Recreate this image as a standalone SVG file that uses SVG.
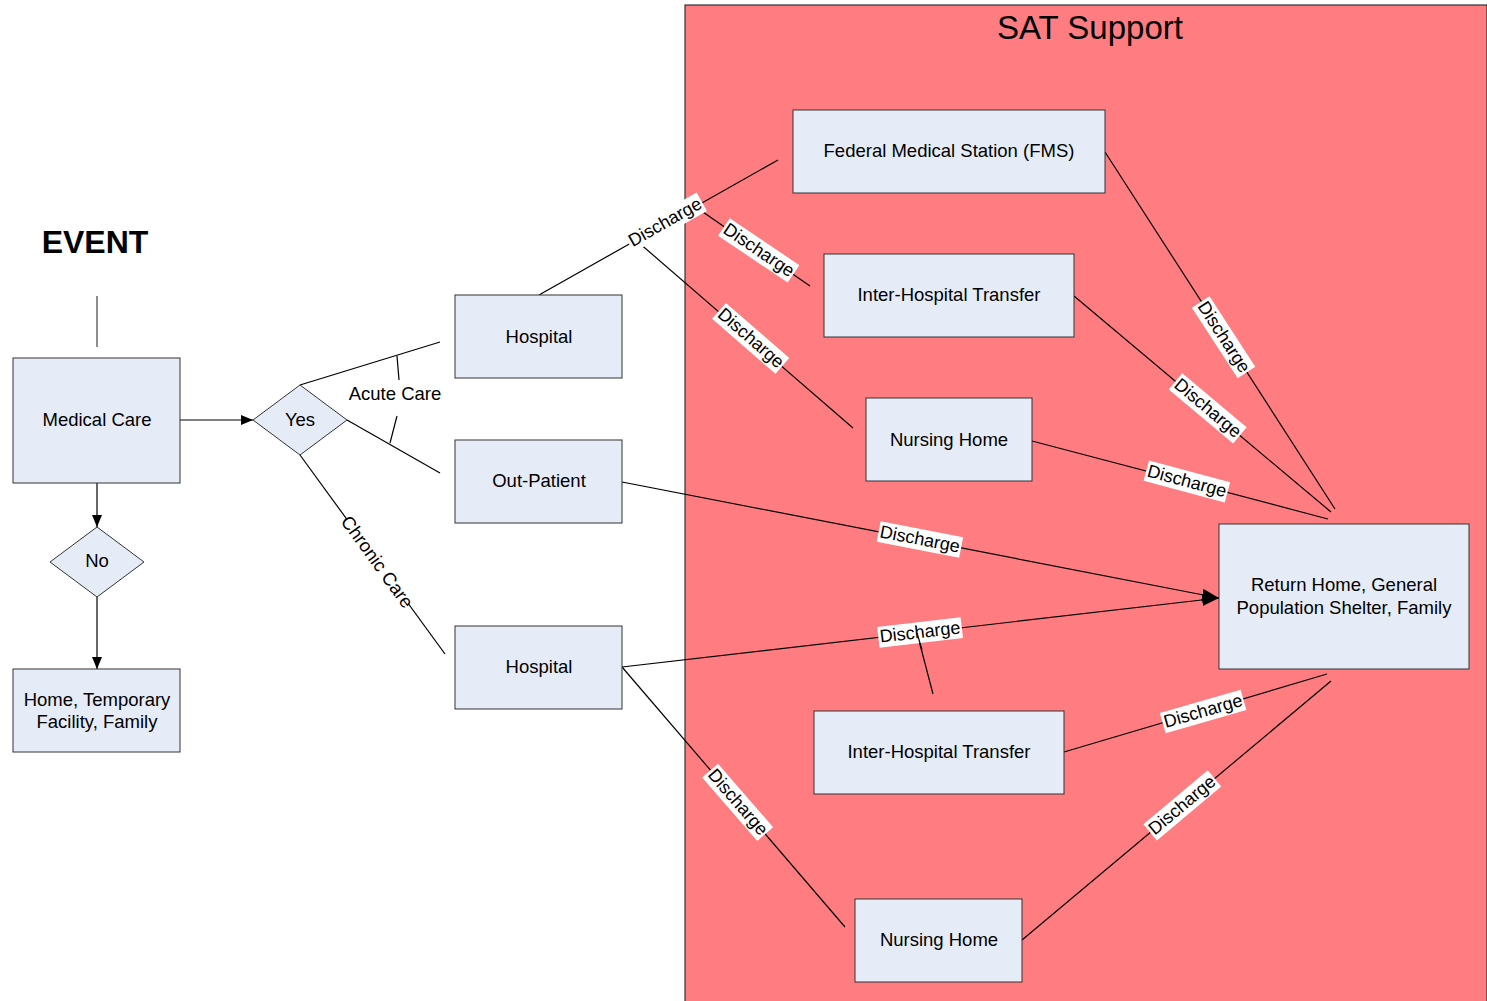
<svg xmlns="http://www.w3.org/2000/svg" width="1487" height="1001" viewBox="0 0 1487 1001">
<style>
text{font-family:"Liberation Sans",Arial,sans-serif;font-size:18.5px;fill:#000;text-anchor:middle}
.d{font-size:18px}
.n{fill:#E6ECF7;stroke:#333;stroke-width:1}
.c{stroke:#000;stroke-width:1.2;fill:none}
.lb{fill:#fff}
</style>
<defs>
<marker id="ah" viewBox="0 0 12 10" refX="12" refY="5" markerWidth="12" markerHeight="10" markerUnits="userSpaceOnUse" orient="auto"><path d="M0,0L12,5L0,10z" fill="#000"/></marker>
<marker id="ahb" viewBox="0 0 17 12" refX="17" refY="6" markerWidth="17" markerHeight="12" markerUnits="userSpaceOnUse" orient="auto"><path d="M0,0L17,6L0,12z" fill="#000"/></marker>
</defs>
<rect width="1487" height="1001" fill="#fff"/>
<g id="sat-support">
<rect x="685" y="5" width="802" height="1000" fill="#FF7C80" stroke="#333" stroke-width="1.2"/>
<text x="1090" y="39" style="font-size:33px">SAT Support</text>
</g>
<text x="95" y="253" style="font-size:32px;font-weight:bold">EVENT</text>
<g id="connectors">
<line class="c" x1="97" y1="296" x2="97" y2="347" style="stroke:#444"/>
<line class="c" x1="180" y1="420" x2="253" y2="420" marker-end="url(#ah)"/>
<line class="c" x1="97" y1="483" x2="97" y2="527" marker-end="url(#ah)"/>
<line class="c" x1="97" y1="597" x2="97" y2="669" marker-end="url(#ah)"/>
<line class="c" x1="300" y1="385" x2="440" y2="342"/>
<line class="c" x1="347" y1="420" x2="440" y2="473"/>
<line class="c" x1="397" y1="356" x2="399" y2="380"/>
<line class="c" x1="390" y1="443" x2="397" y2="416"/>
<line class="c" x1="300" y1="455" x2="445" y2="654"/>
<line class="c" x1="539" y1="295" x2="778" y2="160"/>
<line class="c" x1="700" y1="210" x2="810" y2="286"/>
<line class="c" x1="638" y1="242" x2="853" y2="428"/>
<line class="c" x1="1105" y1="152" x2="1335" y2="509"/>
<line class="c" x1="1074" y1="296" x2="1331" y2="512"/>
<line class="c" x1="1032" y1="441" x2="1328" y2="519"/>
<line class="c" x1="622" y1="482" x2="1219" y2="598" marker-end="url(#ahb)"/>
<line class="c" x1="622" y1="667" x2="1219" y2="598" marker-end="url(#ahb)"/>
<line class="c" x1="917" y1="633" x2="933" y2="694"/>
<line class="c" x1="622" y1="667" x2="845" y2="927"/>
<line class="c" x1="1064" y1="752" x2="1327" y2="674"/>
<line class="c" x1="1022" y1="940" x2="1331" y2="681"/>
<g transform="translate(395,394)"><text y="6">Acute Care</text></g>
<g transform="translate(377,562) rotate(54)"><rect class="lb" x="-52" y="-10" width="104" height="20"/><text y="6">Chronic Care</text></g>
<g transform="translate(665,222) rotate(-29.5)"><rect class="lb" x="-42" y="-10" width="84" height="21"/><text class="d" y="6">Discharge</text></g>
<g transform="translate(759,250) rotate(34)"><rect class="lb" x="-42" y="-10" width="84" height="21"/><text class="d" y="6">Discharge</text></g>
<g transform="translate(751,338) rotate(41)"><rect class="lb" x="-42" y="-10" width="84" height="21"/><text class="d" y="6">Discharge</text></g>
<g transform="translate(1224,337) rotate(57)"><rect class="lb" x="-42" y="-10" width="84" height="21"/><text class="d" y="6">Discharge</text></g>
<g transform="translate(1208,408) rotate(40)"><rect class="lb" x="-42" y="-10" width="84" height="21"/><text class="d" y="6">Discharge</text></g>
<g transform="translate(1187,481) rotate(15)"><rect class="lb" x="-42" y="-10" width="84" height="21"/><text class="d" y="6">Discharge</text></g>
<g transform="translate(920,539) rotate(11)"><rect class="lb" x="-42" y="-10" width="84" height="21"/><text class="d" y="6">Discharge</text></g>
<g transform="translate(920,632) rotate(-6.6)"><rect class="lb" x="-42" y="-10" width="84" height="21"/><text class="d" y="6">Discharge</text></g>
<line class="c" x1="917" y1="633" x2="922" y2="650"/>
<g transform="translate(738,802) rotate(49)"><rect class="lb" x="-42" y="-10" width="84" height="21"/><text class="d" y="6">Discharge</text></g>
<g transform="translate(1203,711) rotate(-16)"><rect class="lb" x="-42" y="-10" width="84" height="21"/><text class="d" y="6">Discharge</text></g>
<g transform="translate(1182,805) rotate(-40)"><rect class="lb" x="-42" y="-10" width="84" height="21"/><text class="d" y="6">Discharge</text></g>
</g>
<g id="medical-care"><rect class="n" x="13" y="358" width="167" height="125"/><text x="97" y="426">Medical Care</text></g>
<g id="no"><path class="n" d="M97,527L144,562L97,597L50,562z"/><text x="97" y="567">No</text></g>
<g id="home-temp"><rect class="n" x="13" y="669" width="167" height="83"/><text x="97" y="706">Home, Temporary</text><text x="97" y="728">Facility, Family</text></g>
<g id="yes"><path class="n" d="M300,385L347,420L300,455L253,420z"/><text x="300" y="426">Yes</text></g>
<g id="hospital-acute"><rect class="n" x="455" y="295" width="167" height="83"/><text x="539" y="343">Hospital</text></g>
<g id="out-patient"><rect class="n" x="455" y="440" width="167" height="83"/><text x="539" y="487">Out-Patient</text></g>
<g id="hospital-chronic"><rect class="n" x="455" y="626" width="167" height="83"/><text x="539" y="673">Hospital</text></g>
<g id="fms"><rect class="n" x="793" y="110" width="312" height="83"/><text x="949" y="157">Federal Medical Station (FMS)</text></g>
<g id="iht-top"><rect class="n" x="824" y="254" width="250" height="83"/><text x="949" y="301">Inter-Hospital Transfer</text></g>
<g id="nursing-top"><rect class="n" x="866" y="398" width="166" height="83"/><text x="949" y="446">Nursing Home</text></g>
<g id="return-home"><rect class="n" x="1219" y="524" width="250" height="145"/><text x="1344" y="591">Return Home, General</text><text x="1344" y="614">Population Shelter, Family</text></g>
<g id="iht-bottom"><rect class="n" x="814" y="711" width="250" height="83"/><text x="939" y="758">Inter-Hospital Transfer</text></g>
<g id="nursing-bottom"><rect class="n" x="855" y="899" width="167" height="83"/><text x="939" y="946">Nursing Home</text></g>
</svg>
